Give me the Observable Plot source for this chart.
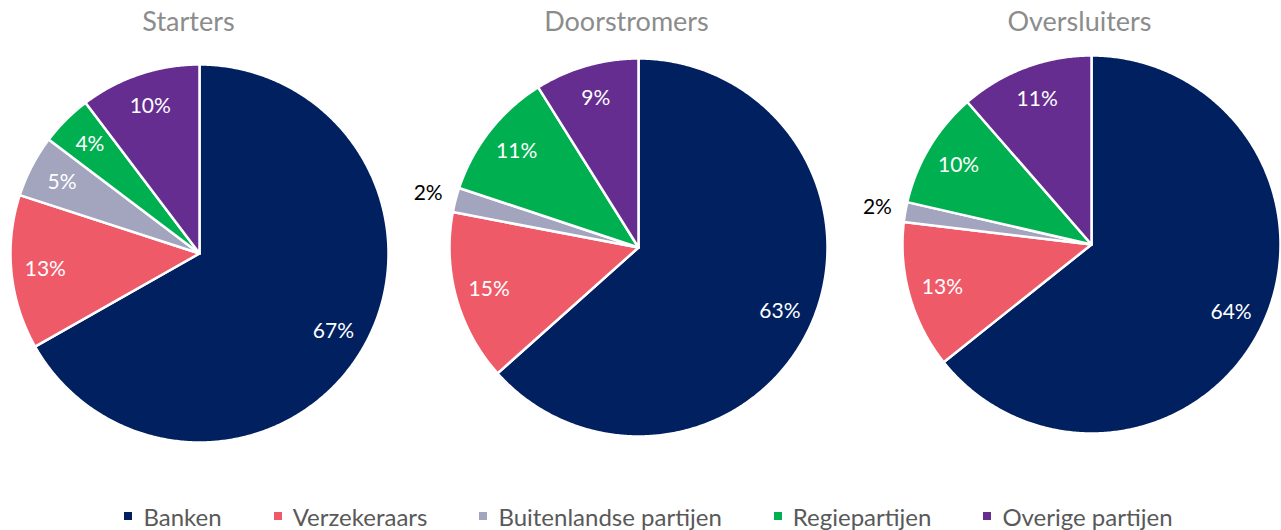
<!DOCTYPE html>
<html>
<head>
<meta charset="utf-8">
<script src="https://cdn.jsdelivr.net/npm/d3@7"></script>
<script src="https://cdn.jsdelivr.net/npm/@observablehq/plot@0.6"></script>
<style>
  html, body { margin: 0; padding: 0; background: #fff; overflow: hidden; }
  #chart svg { display: block; }
  #legend { display: flex; justify-content: center; align-items: center; gap: 52px;
    height: 28px; padding-top: 6px; padding-left: 16px; font-family: Lato, "Open Sans", sans-serif; font-size: 24px; color: #595959; }
  #legend .item { display: flex; align-items: center; white-space: nowrap; }
  #legend .sw { width: 8px; height: 8px; margin-right: 11px; display: inline-block; }
</style>
</head>
<body>
<div id="chart"></div>
<div id="legend"></div>
<script>
const categories = ["Banken", "Verzekeraars", "Buitenlandse partijen", "Regiepartijen", "Overige partijen"];
const colors = ["#002060", "#EF5A68", "#A3A5BE", "#00B050", "#662D91"];
const groups = ["Starters", "Doorstromers", "Oversluiters"];
const startersValues = [66.8, 13.2, 5.3, 4.4, 10.3];
const doorstromersValues = [63.4, 14.6, 2.1, 11.0, 8.9];
const oversluitersValues = [64.3, 12.6, 1.7, 10.0, 11.4];
const startersLabels = ["67%", "13%", "5%", "4%", "10%"];
const doorstromersLabels = ["63%", "15%", "2%", "11%", "9%"];
const oversluitersLabels = ["64%", "13%", "2%", "10%", "11%"];

const seriesValues = [startersValues, doorstromersValues, oversluitersValues];
const seriesLabels = [startersLabels, doorstromersLabels, oversluitersLabels];

// layout
const W = 1281, H = 496;
const centerX = [199, 638, 1091];
const centerY = [253, 247, 244];
const titleX = [188, 626, 1079];
const titleY = 22;
const R = 189;

const slicePts = [];
const labels = [];
groups.forEach((g, gi) => {
  const cx = centerX[gi], cy = centerY[gi];
  const arcs = d3.pie().sort(null).value(d => d)(seriesValues[gi]);
  arcs.forEach((a, i) => {
    const id = g + "-" + i;
    const cat = categories[i];
    const n = Math.max(2, Math.ceil((a.endAngle - a.startAngle) / (Math.PI / 360)));
    slicePts.push({id, cat, x: cx, y: cy});
    for (let k = 0; k <= n; k++) {
      const t = a.startAngle + (a.endAngle - a.startAngle) * k / n;
      slicePts.push({id, cat, x: cx + R * Math.sin(t), y: cy - R * Math.cos(t)});
    }
    slicePts.push({id, cat, x: cx, y: cy});
    const mid = (a.startAngle + a.endAngle) / 2;
    const outside = a.data < 3;
    const rr = outside ? R * 1.15 : R * 0.82;
    labels.push({x: cx + rr * Math.sin(mid), y: cy - rr * Math.cos(mid), text: seriesLabels[gi][i], outside});
  });
});
const titles = groups.map((g, gi) => ({x: titleX[gi], y: titleY, text: g}));

const font = "Lato, 'Open Sans', sans-serif";
const plot = Plot.plot({
  width: W, height: H, margin: 0,
  x: {domain: [0, W], range: [0, W], axis: null},
  y: {domain: [0, H], range: [0, H], axis: null},
  color: {domain: categories, range: colors},
  style: {fontFamily: font, background: "white"},
  marks: [
    Plot.line(slicePts, {x: "x", y: "y", z: "id", fill: "cat", stroke: "white", strokeWidth: 2.5, strokeLinejoin: "round", curve: "linear"}),
    Plot.text(labels.filter(d => !d.outside), {x: "x", y: "y", text: "text", fill: "white", fontSize: 21, fontFamily: font}),
    Plot.text(labels.filter(d => d.outside), {x: "x", y: "y", text: "text", fill: "black", fontSize: 21, fontFamily: font}),
    Plot.text(titles, {x: "x", y: "y", text: "text", fill: "#8c8c8c", fontSize: 27, fontFamily: font})
  ]
});
document.getElementById("chart").appendChild(plot);

const legend = document.getElementById("legend");
categories.forEach((c, i) => {
  const item = document.createElement("span");
  item.className = "item";
  const sw = document.createElement("span");
  sw.className = "sw";
  sw.style.background = plot.scale("color").apply(c);
  item.appendChild(sw);
  item.appendChild(document.createTextNode(c));
  legend.appendChild(item);
});
</script>
</body>
</html>
